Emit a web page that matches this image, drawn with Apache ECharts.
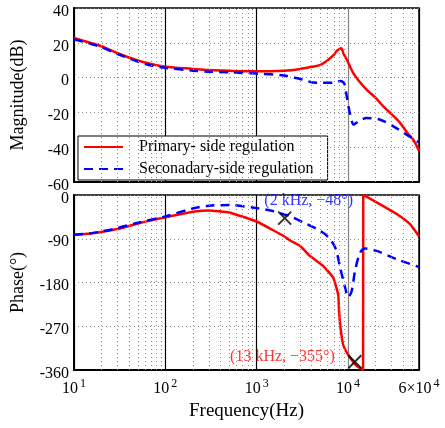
<!DOCTYPE html>
<html>
<head>
<meta charset="utf-8">
<script src="https://cdn.jsdelivr.net/npm/echarts@6/dist/echarts.min.js"></script>
<style>
html, body { margin: 0; padding: 0; background: #fff; }
#chart { width: 445px; height: 428px; }
</style>
</head>
<body>
<div id="chart"></div>
<script>
var FONT = 'Liberation Serif';

// 幅频 - 原边调节
var magFreqP = [10, 15, 20, 30, 50, 70, 100, 200, 300, 500, 1000, 2000, 3000, 4000, 5000, 6000, 7000, 7500, 8000, 8430, 9000, 9700, 11400, 13000, 16000, 20000, 24400, 30000, 37200, 45000, 52000, 60000];
var magP = [22.8, 20, 18, 14, 9.8, 7.8, 6.3, 5, 4.3, 3.9, 3.6, 4, 5, 6.2, 7.3, 10, 13, 15.2, 16.3, 16.8, 13.5, 10.4, 2.7, -1.5, -6.9, -11.5, -16.5, -21, -26, -32, -35.7, -42];

// 幅频 - 副边调节
var magFreqS = [10, 15, 20, 30, 50, 70, 100, 200, 300, 500, 1000, 2000, 3000, 4500, 6900, 8200, 8800, 9200, 9700, 10500, 11600, 13000, 16000, 22500, 31500, 44200, 60000];
var magS = [22, 19.5, 17.5, 13.5, 9.2, 7, 5.6, 4, 3.4, 3, 2.3, 1.2, -0.8, -3, -3, -2, -2.5, -4, -10.8, -20.4, -27, -25.2, -23.2, -24.2, -28, -32.9, -37.3];

// 相频 - 原边调节
var phFreqP = [10, 15, 20, 30, 50, 70, 100, 200, 300, 500, 1000, 1500, 2000, 2300, 3000, 3820, 5350, 6890, 7820, 8000, 8300, 8870, 10070, 11940, 13000, 14100, 14650, 14700, 20600, 34200, 47900, 60000];
var phP = [-82, -79, -76, -70, -58.6, -52, -46, -34.5, -31.7, -36, -54.5, -72, -85, -93, -105, -125, -146, -170, -205, -240, -274, -308, -329, -348, -354, -358, -360, 0, -15, -39, -60, -85];

// 相频 - 副边调节
var phFreqS = [10, 15, 20, 30, 50, 100, 200, 300, 500, 1000, 1500, 2000, 2300, 3270, 4570, 5890, 7250, 8230, 9330, 10070, 10970, 11940, 13550, 15400, 20600, 34200, 60000];
var phS = [-82, -79, -75, -68, -57, -44, -27.6, -22, -20.7, -27, -33, -40, -43, -56.6, -70, -84, -108, -150, -191, -210, -198, -157, -119, -110, -115, -132, -148];

// 标注点
var markFreq = [2030, 11900];
var markPhase = [-47.6, -343];
var markText = ['(2 kHz, \u221248\u00b0)', '(13 kHz, \u2212355\u00b0)'];

// 次网格线
var minorFreq = [20, 30, 40, 50, 60, 70, 80, 90, 200, 300, 400, 500, 600, 700, 800, 900,
    2000, 3000, 4000, 5000, 6000, 7000, 8000, 9000, 20000, 30000, 40000, 50000];

var seriesNames = ['Primary- side regulation', 'Seconadary-side regulation'];

function pair(xs, ys) {
    return xs.map(function (x, i) { return [x, ys[i]]; });
}

function freqLabel(v) {
    var p = Math.floor(Math.log10(v) + 1e-9);
    var m = Math.round(v / Math.pow(10, p));
    if (m === 1) return '10{sup|' + p + '}';
    return m + '\u00d710{sup|' + p + '}';
}

function xAxisOf(grid, showLabel) {
    return {
        type: 'log',
        logBase: 10,
        gridIndex: grid,
        min: 10,
        max: 60000,
        name: showLabel ? 'Frequency(Hz)' : '',
        nameLocation: 'middle',
        nameGap: 32,
        nameTextStyle: { fontFamily: FONT, fontSize: 19, color: '#000' },
        axisLine: { show: true, onZero: false, lineStyle: { color: '#000', width: 2 } },
        axisTick: { show: false },
        axisLabel: {
            show: showLabel,
            margin: 8,
            fontFamily: FONT,
            fontSize: 16,
            color: '#000',
            formatter: freqLabel,
            rich: { sup: { fontFamily: FONT, fontSize: 12, color: '#000', padding: [0, 0, 10, 2] } }
        },
        splitLine: { show: true, lineStyle: { color: ['#000', '#000', '#000', '#808080', '#000'], width: 1.2 } }
    };
}

function yAxisOf(grid, name, min, max, step) {
    return {
        type: 'value',
        gridIndex: grid,
        min: min,
        max: max,
        interval: step,
        name: name,
        nameLocation: 'middle',
        nameGap: 47,
        nameTextStyle: { fontFamily: FONT, fontSize: 18, color: '#000' },
        axisLine: { show: true, onZero: false, lineStyle: { color: '#000', width: 2 } },
        axisTick: { show: false },
        axisLabel: {
            margin: 5,
            formatter: function (v) { return '{n|' + v + '}'; },
            rich: { n: { fontFamily: FONT, fontSize: 16, color: '#000', padding: [7, 0, 0, 0] } }
        },
        splitLine: { show: true, lineStyle: { color: '#8c8c8c', type: [1, 3], width: 1 } }
    };
}

function minorGrid(grid) {
    return {
        type: 'line',
        xAxisIndex: grid,
        yAxisIndex: grid,
        data: [],
        z: 1,
        silent: true,
        markLine: {
            silent: true,
            symbol: 'none',
            animation: false,
            label: { show: false },
            lineStyle: { color: '#8c8c8c', type: [1, 3], width: 1 },
            data: minorFreq.map(function (f) { return { xAxis: f }; })
        }
    };
}

var chart = echarts.init(document.getElementById('chart'));

chart.setOption({
    animation: false,
    backgroundColor: '#fff',
    grid: [
        { left: 74, right: 26, top: 8, height: 174, show: true, borderColor: '#000', borderWidth: 1.5 },
        { left: 74, right: 26, top: 195, height: 175, show: true, borderColor: '#000', borderWidth: 1.5 }
    ],
    legend: {
        data: seriesNames,
        orient: 'vertical',
        left: 78,
        top: 136,
        padding: [3, 14, 3, 5],
        itemWidth: 39,
        itemHeight: 14,
        itemGap: 6,
        backgroundColor: '#fff',
        borderColor: '#000',
        borderWidth: 1,
        borderRadius: 0,
        itemStyle: { opacity: 0 },
        textStyle: { fontFamily: FONT, fontSize: 16, color: '#000', padding: [0, 0, 0, 11] }
    },
    xAxis: [xAxisOf(0, false), xAxisOf(1, true)],
    yAxis: [
        yAxisOf(0, 'Magnitude(dB)', -60, 40, 20),
        yAxisOf(1, 'Phase(\u00b0)', -360, 0, 90)
    ],
    series: [
        minorGrid(0),
        minorGrid(1),
        {
            name: seriesNames[0],
            type: 'line',
            xAxisIndex: 0,
            yAxisIndex: 0,
            data: pair(magFreqP, magP),
            symbol: 'none',
            smooth: 0.3,
            z: 3,
            lineStyle: { color: '#ff0000', width: 2.5 },
            itemStyle: { color: '#ff0000' }
        },
        {
            name: seriesNames[1],
            type: 'line',
            xAxisIndex: 0,
            yAxisIndex: 0,
            data: pair(magFreqS, magS),
            symbol: 'none',
            smooth: 0.3,
            z: 3,
            lineStyle: { color: '#0000ff', width: 2.5, type: [9, 6] },
            itemStyle: { color: '#0000ff' }
        },
        {
            name: seriesNames[0],
            type: 'line',
            xAxisIndex: 1,
            yAxisIndex: 1,
            data: pair(phFreqP, phP),
            symbol: 'none',
            smooth: 0.15,
            z: 3,
            lineStyle: { color: '#ff0000', width: 2.5 },
            itemStyle: { color: '#ff0000' }
        },
        {
            name: seriesNames[1],
            type: 'line',
            xAxisIndex: 1,
            yAxisIndex: 1,
            data: pair(phFreqS, phS),
            symbol: 'none',
            smooth: 0.3,
            z: 3,
            lineStyle: { color: '#0000ff', width: 2.5, type: [9, 6] },
            itemStyle: { color: '#0000ff' }
        },
        {
            name: 'marks',
            type: 'scatter',
            xAxisIndex: 1,
            yAxisIndex: 1,
            symbol: 'path://M0 0L10 10M10 0L0 10',
            symbolSize: 13,
            z: 5,
            itemStyle: { color: 'none', borderColor: '#000', borderWidth: 2 },
            data: [
                {
                    value: [markFreq[0], markPhase[0]],
                    label: { show: true, position: 'top', distance: 0, offset: [24, 0], color: '#0000ff' }
                },
                {
                    value: [markFreq[1], markPhase[1]],
                    label: { show: true, position: 'left', distance: 11, offset: [0, -5], color: '#ff0000' }
                }
            ],
            label: {
                fontFamily: FONT,
                fontSize: 16,
                formatter: function (p) { return markText[p.dataIndex]; }
            }
        }
    ]
});
</script>
</body>
</html>
